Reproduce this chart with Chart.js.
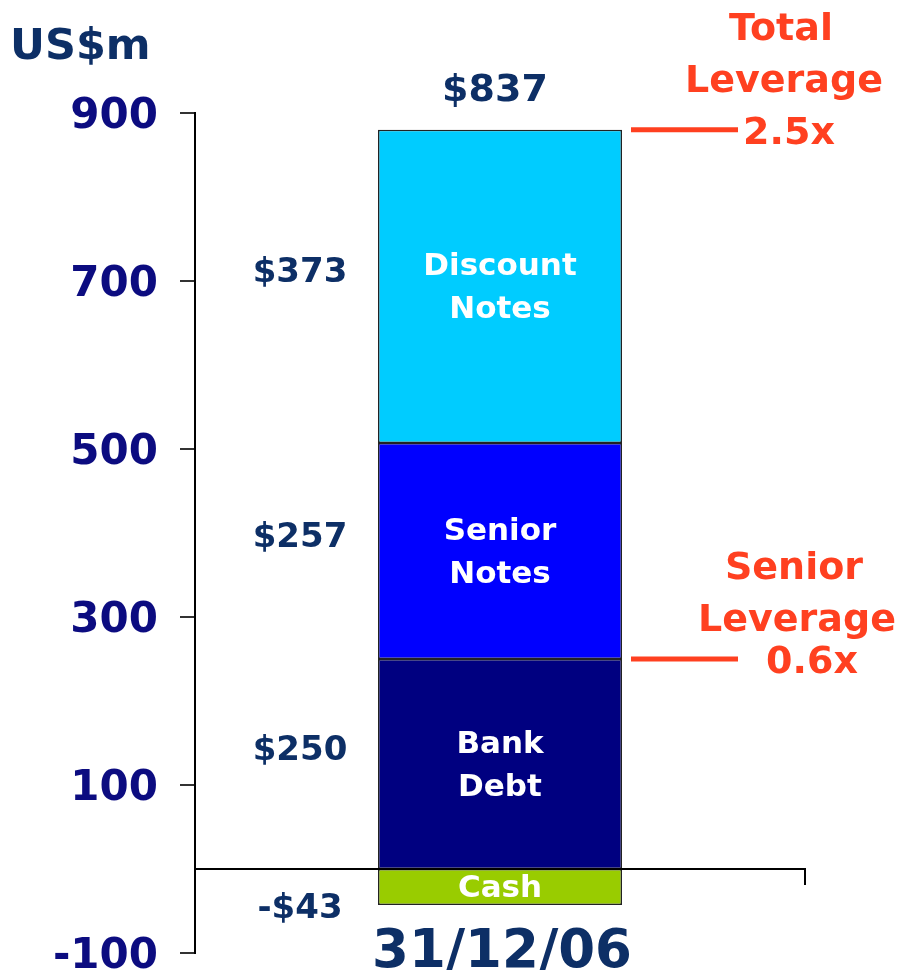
<!DOCTYPE html>
<html>
<head>
<meta charset="utf-8">
<script src="https://cdn.jsdelivr.net/npm/chart.js@4/dist/chart.umd.min.js"></script>
<style>
  html, body { margin: 0; padding: 0; background: #fff; }
  canvas { display: block; }
</style>
</head>
<body>
<canvas id="capChart" width="898" height="970"></canvas>
<script>
// Data
const categories = ['31/12/06'];
const segmentNames = ['Cash', 'Bank Debt', 'Senior Notes', 'Discount Notes'];
const segmentLabels = [['Cash'], ['Bank', 'Debt'], ['Senior', 'Notes'], ['Discount', 'Notes']];
const cashValues = [-43];
const bankDebtValues = [250];
const seniorNotesValues = [257];
const discountNotesValues = [373];
const valueLabels = ['-$43', '$250', '$257', '$373'];
const totalLabel = '$837';
const yTicks = [-100, 100, 300, 500, 700, 900];
const leverageLevels = [880, 250];
const leverageText = [['Total', 'Leverage', '2.5x'], ['Senior', 'Leverage', '0.6x']];

const navy = '#0d2f66';
const red = '#ff4020';
const font = 'DejaVu Sans, Verdana, sans-serif';
const dy = 4; // DejaVu sits a little high with a middle baseline

const ctx = document.getElementById('capChart').getContext('2d');

const annotations = {
  id: 'annotations',
  afterDraw(chart) {
    const c = chart.ctx;
    const y = chart.scales.y;
    const area = chart.chartArea;
    const y0 = y.getPixelForValue(0);
    c.save();

    // x axis at zero
    c.strokeStyle = '#000';
    c.lineWidth = 2;
    c.beginPath();
    c.moveTo(area.left, y0);
    c.lineTo(area.right, y0);
    c.lineTo(area.right, y0 + 16);
    c.stroke();

    // unit title
    c.fillStyle = navy;
    c.font = 'bold 43px ' + font;
    c.textAlign = 'left';
    c.textBaseline = 'middle';
    c.fillText('US$m', 10, 44 + dy);

    // category label
    const bar0 = chart.getDatasetMeta(0).data[0];
    c.textAlign = 'center';
    c.font = 'bold 53px ' + font;
    c.fillText(categories[0], bar0.x + 2, 949 + dy);

    // segment labels
    let top = Infinity, right = 0;
    chart.data.datasets.forEach((ds, i) => {
      const bar = chart.getDatasetMeta(i).data[0];
      const yTop = Math.min(bar.y, bar.base);
      const yBot = Math.max(bar.y, bar.base);
      top = Math.min(top, yTop);
      right = bar.x + bar.width / 2;
      const mid = (yTop + yBot) / 2;
      const lines = segmentLabels[i];
      c.fillStyle = '#fff';
      c.font = 'bold 31px ' + font;
      lines.forEach((t, k) => {
        c.fillText(t, bar.x, mid + (k - (lines.length - 1) / 2) * 43 + 2);
      });
      c.fillStyle = navy;
      c.font = 'bold 34px ' + font;
      const ly = ds.data[0] < 0 ? yBot + 2 : mid - 15;
      c.fillText(valueLabels[i], bar.x - 200, ly + 2);
    });
    c.font = 'bold 38px ' + font;
    c.fillText(totalLabel, bar0.x - 5, top - 43 + dy);

    // leverage markers
    leverageLevels.forEach((v, i) => {
      const py = y.getPixelForValue(v);
      c.strokeStyle = red;
      c.lineWidth = 5;
      c.beginPath();
      c.moveTo(right + 9, py);
      c.lineTo(right + 116, py);
      c.stroke();
      c.fillStyle = red;
      c.font = 'bold 38px ' + font;
      const t = leverageText[i];
      const cx = i === 0 ? 784 : 797;
      const off = i === 0 ? 0 : 10;
      c.fillText(t[0], cx - 3, py - 104 + off + dy);
      c.fillText(t[1], cx, py - 52 + off + dy);
      c.fillText(t[2], cx + 5 + off, py + dy);
    });
    c.restore();
  }
};

new Chart(ctx, {
  type: 'bar',
  data: {
    labels: categories,
    datasets: [
      { label: segmentNames[0], data: cashValues, backgroundColor: '#99cc00' },
      { label: segmentNames[1], data: bankDebtValues, backgroundColor: '#000080' },
      { label: segmentNames[2], data: seniorNotesValues, backgroundColor: '#0000ff' },
      { label: segmentNames[3], data: discountNotesValues, backgroundColor: '#00ccff' }
    ].map(d => Object.assign(d, {
      borderColor: '#222',
      borderWidth: 1.5,
      borderSkipped: false,
      categoryPercentage: 1,
      barPercentage: 0.4
    }))
  },
  options: {
    responsive: false,
    animation: false,
    layout: { padding: { top: 113, bottom: 17, right: 93, left: 0 } },
    plugins: { legend: { display: false }, tooltip: { enabled: false } },
    scales: {
      x: { stacked: true, display: false },
      y: {
        stacked: true,
        min: -100,
        max: 900,
        afterBuildTicks: s => { s.ticks = yTicks.map(v => ({ value: v })); },
        afterFit: s => { s.width = 195; s.paddingTop = 0; s.paddingBottom = 0; },
        grid: { drawOnChartArea: false, drawTicks: true, tickLength: 15, color: '#333', lineWidth: 2 },
        border: { display: true, color: '#000', width: 2 },
        ticks: {
          padding: 22,
          labelOffset: 4,
          color: '#0c0c80',
          font: { family: font, size: 42, weight: 'bold' }
        }
      }
    }
  },
  plugins: [annotations]
});
</script>
</body>
</html>
